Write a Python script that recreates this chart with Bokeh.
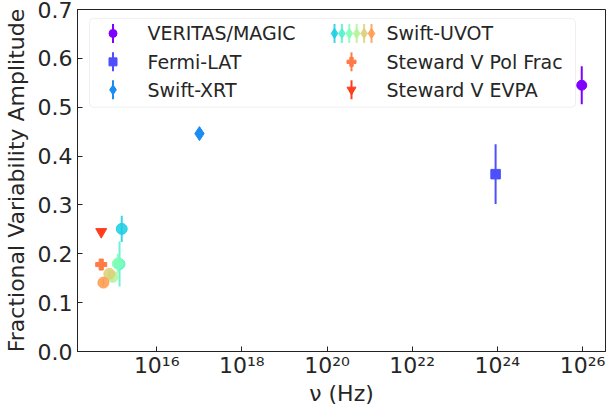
from bokeh.plotting import figure
from bokeh.models import FixedTicker, CustomJSTickFormatter, BoxAnnotation, Label, Range1d
from bokeh.embed import file_html
from bokeh.resources import INLINE

# ---------------- data ----------------
veritas_nu = [9.6e25]
veritas_f = [0.545]
veritas_e = [0.039]

fermi_nu = [9.1e23]
fermi_f = [0.363]
fermi_e = [0.061]

xrt_nu = [1.01e17]
xrt_f = [0.446]
xrt_e = [0.008]

uvot_filters = ["W2", "M2", "W1", "U", "B", "V"]
uvot_nu = [1.51e15, 1.34e15, 1.22e15, 9.2e14, 7.7e14, 5.6e14]
uvot_f = [0.251, 0.179, 0.180, 0.153, 0.159, 0.141]
uvot_e = [0.027, 0.046, 0.020, 0.008, 0.008, 0.008]

steward_nu = [4.98e14]
polfrac_f = [0.178]
polfrac_e = [0.006]
evpa_f = [0.245]
evpa_e = [0.004]

x_ticks = [1e16, 1e18, 1e20, 1e22, 1e24, 1e26]
y_ticks = [0.0, 0.1, 0.2, 0.3, 0.4, 0.5, 0.6, 0.7]

legend_labels = ["VERITAS/MAGIC", "Fermi-LAT", "Swift-XRT",
                 "Swift-UVOT", "Steward V Pol Frac", "Steward V EVPA"]

# ---------------- styles ----------------
C_VER = "#8000ff"
C_FER = "#4d4ffc"
C_XRT = "#1a8cf2"
C_UVOT = ["#1acee3", "#4df3ce", "#80ffb4", "#b3f396", "#dcd078", "#ff9a4f"]
C_POL = "#ff7a45"
C_EVPA = "#ff3d1f"
FONT = "DejaVu Sans"
TXT = "#262626"

LOGX0, LOGX1 = 14.14, 26.54
p = figure(width=608, height=408, x_axis_type="log",
           x_range=Range1d(10 ** LOGX0, 10 ** LOGX1), y_range=Range1d(0, 0.7),
           output_backend="svg", toolbar_location=None,
           min_border_left=77, min_border_right=3, min_border_top=9, min_border_bottom=56)
p.grid.visible = False
p.outline_line_color = "#222222"
p.outline_line_width = 1
p.background_fill_color = "white"
p.border_fill_color = "white"

for ax in (p.xaxis[0], p.yaxis[0]):
    ax.major_tick_in = 5
    ax.major_tick_out = 0
    ax.minor_tick_in = 0
    ax.minor_tick_out = 0
    ax.axis_line_color = "#222222"
    ax.major_tick_line_color = "#222222"
    ax.major_label_text_font = FONT
    ax.major_label_text_font_size = "22px"
    ax.major_label_text_color = TXT
    ax.axis_label_text_font = FONT
    ax.axis_label_text_font_size = "22px"
    ax.axis_label_text_font_style = "normal"
    ax.axis_label_text_color = TXT

p.xaxis.ticker = FixedTicker(ticks=x_ticks)
p.xaxis.formatter = CustomJSTickFormatter(code="""
const sup = {"0":"\u2070","1":"\u00b9","2":"\u00b2","3":"\u00b3","4":"\u2074",
             "5":"\u2075","6":"\u2076","7":"\u2077","8":"\u2078","9":"\u2079","-":"\u207b"};
const e = Math.round(Math.log10(tick));
return "10" + String(e).split("").map(c => sup[c]).join("");
""")
p.xaxis.major_label_standoff = 1
p.xaxis.axis_label = "\u03bd (Hz)"
p.xaxis.axis_label_standoff = 0

p.yaxis.ticker = FixedTicker(ticks=y_ticks)
p.yaxis.formatter = CustomJSTickFormatter(code="return tick.toFixed(1);")
p.yaxis.major_label_standoff = 5
p.yaxis.axis_label = "Fractional Variability Amplitude"
p.yaxis.axis_label_standoff = 6


def errbar(xs, ys, es, color, alpha=1.0):
    p.segment(x0=xs, x1=xs, y0=[y - e for y, e in zip(ys, es)],
              y1=[y + e for y, e in zip(ys, es)], line_color=color,
              line_width=2, line_alpha=alpha)


# data marks
errbar(veritas_nu, veritas_f, veritas_e, C_VER)
p.scatter(veritas_nu, veritas_f, marker="circle", size=10, color=C_VER)
errbar(fermi_nu, fermi_f, fermi_e, C_FER)
p.scatter(fermi_nu, fermi_f, marker="square", size=9.5, color=C_FER)
errbar(xrt_nu, xrt_f, xrt_e, C_XRT)
p.scatter(xrt_nu, xrt_f, marker="diamond", size=14, color=C_XRT)
for i in range(len(uvot_nu)):
    errbar([uvot_nu[i]], [uvot_f[i]], [uvot_e[i]], C_UVOT[i], 0.85)
    p.scatter([uvot_nu[i]], [uvot_f[i]], marker="circle", size=11,
              color=C_UVOT[i], alpha=0.85)
errbar(steward_nu, polfrac_f, polfrac_e, C_POL)
p.scatter(steward_nu, polfrac_f, marker="plus", size=11, color=C_POL)
errbar(steward_nu, evpa_f, evpa_e, C_EVPA)
p.scatter(steward_nu, evpa_f, marker="inverted_triangle", size=11, color=C_EVPA)

# ---------------- legend (laid out in screen pixels) ----------------
X0_PX, X1_PX, Y0_PX, Y1_PX = 77.0, 605.0, 352.0, 9.0


def sx(px):
    return 10 ** (LOGX0 + (px - X0_PX) / (X1_PX - X0_PX) * (LOGX1 - LOGX0))


def sy(py):
    return (Y0_PX - py) / (Y0_PX - Y1_PX) * 0.7


box = BoxAnnotation(left=sx(89), right=sx(575), top=sy(18), bottom=sy(107),
                    fill_color="white", fill_alpha=0.8, line_color="#cccccc",
                    line_width=1, border_radius=4)
p.add_layout(box)

rows = [33.0, 61.5, 89.5]
col_glyph = [112.5, 351.0]
col_text = [147.0, 386.0]


def leg_marker(px, py, marker, size, color, alpha=1.0):
    p.segment(x0=[sx(px)], x1=[sx(px)], y0=[sy(py + 9.5)], y1=[sy(py - 9.5)],
              line_color=color, line_width=2, line_alpha=alpha, level="overlay")
    p.scatter([sx(px)], [sy(py)], marker=marker, size=size, color=color,
              alpha=alpha, level="overlay")


leg_marker(col_glyph[0], rows[0], "circle", 8, C_VER)
leg_marker(col_glyph[0], rows[1], "square", 8, C_FER)
leg_marker(col_glyph[0], rows[2], "diamond", 10, C_XRT)
for i in range(6):
    leg_marker(334.0 + i * 7.4, rows[0], "diamond", 10, C_UVOT[i], 0.85)
leg_marker(col_glyph[1], rows[1], "plus", 9, C_POL)
leg_marker(col_glyph[1], rows[2], "inverted_triangle", 9, C_EVPA)

for k, lab in enumerate(legend_labels):
    c, r = divmod(k, 3)
    p.add_layout(Label(x=sx(col_text[c]), y=sy(rows[r]), text=lab,
                       text_baseline="middle", text_align="left",
                       text_font=FONT, text_font_size="19px",
                       text_color=TXT, level="overlay"))

open("out.html", "w").write(file_html(p, INLINE))
